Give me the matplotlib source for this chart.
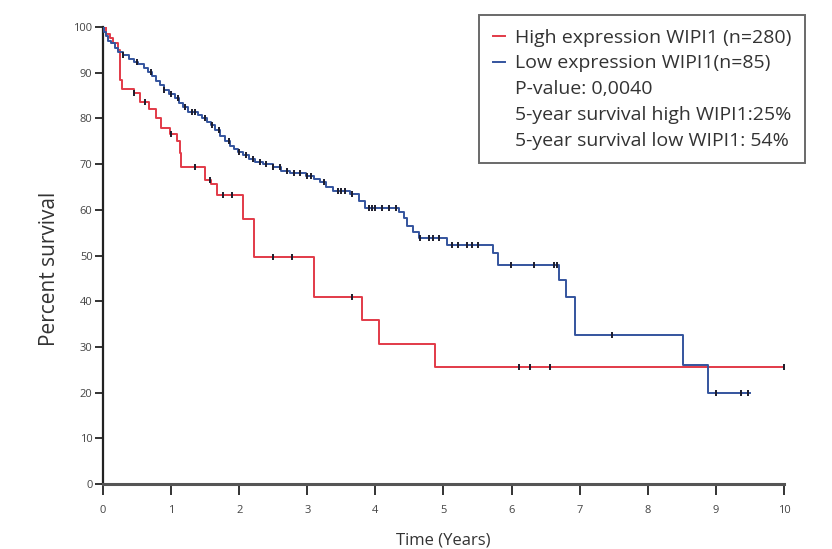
import numpy as np
import matplotlib
matplotlib.use("Agg")
import matplotlib.pyplot as plt
from matplotlib.lines import Line2D

plt.rcParams["font.family"] = ["Open Sans", "DejaVu Sans"]

# Kaplan-Meier step data (time in years, percent survival)
high_times = [0, 0.05, 0.10, 0.15, 0.22, 0.25, 0.28, 0.45, 0.55, 0.68, 0.78, 0.85, 0.98,
              1.08, 1.13, 1.15, 1.50, 1.58, 1.67, 2.05, 2.22, 3.10, 3.80, 4.05, 4.88]
high_surv = [100, 98.5, 97.5, 96.5, 95, 88.5, 86.5, 85.5, 83.5, 82, 80, 78, 76.5,
             75, 72.5, 69.3, 66.5, 65.6, 63.3, 58, 49.6, 40.9, 35.8, 30.7, 25.6]
high_end = 10.0
high_censor = [0.45, 0.62, 1.0, 1.35, 1.57, 1.76, 1.9, 2.5, 2.77, 3.66, 6.11, 6.27, 6.56, 10.0]

low_times = [0, 0.02, 0.05, 0.08, 0.12, 0.17, 0.22, 0.30, 0.38, 0.45, 0.52, 0.60, 0.66, 0.72,
             0.78, 0.83, 0.90, 0.97, 1.05, 1.12, 1.18, 1.25, 1.40, 1.45, 1.52, 1.59, 1.65,
             1.72, 1.79, 1.86, 1.93, 1.98, 2.06, 2.15, 2.23, 2.35, 2.50, 2.62, 2.75, 2.98,
             3.10, 3.19, 3.28, 3.38, 3.62, 3.76, 3.84, 4.35, 4.42, 4.47, 4.55, 4.64, 5.05,
             5.73, 5.80, 6.70, 6.80, 6.93, 8.52, 8.89]
low_surv = [100, 99, 98, 97, 96.5, 95.5, 94.5, 93.8, 93, 92.3, 91.8, 91, 90.2, 89.2,
            88.2, 87.3, 86.3, 85.4, 84.4, 83.4, 82.4, 81.5, 80.8, 80, 79.3, 78.6, 77.5,
            76.2, 75, 74, 73.2, 72.7, 72, 71.2, 70.5, 70, 69.3, 68.6, 68, 67.4,
            66.7, 66, 65, 64.2, 63.4, 62, 60.4, 59.6, 58.2, 56.5, 55.2, 53.8, 52.3,
            50.5, 47.9, 44.6, 41, 32.6, 26, 20]
low_end = 9.5
low_censor = [0.3, 0.5, 0.7, 0.9, 1.0, 1.1, 1.2, 1.3, 1.35, 1.5, 1.6, 1.7, 1.85, 2.0, 2.1,
              2.2, 2.3, 2.4, 2.5, 2.6, 2.7, 2.8, 2.9, 3.0, 3.05, 3.25, 3.45, 3.5, 3.55,
              3.65, 3.9, 3.95, 4.0, 4.1, 4.2, 4.3, 4.66, 4.78, 4.85, 4.93, 5.13, 5.22,
              5.34, 5.42, 5.51, 5.99, 6.33, 6.62, 6.66, 7.47, 9.0, 9.37, 9.47]

high_label = "High expression WIPI1 (n=280)"
low_label = "Low expression WIPI1(n=85)"
extra_lines = ["P-value: 0,0040",
               "5-year survival high WIPI1:25%",
               "5-year survival low WIPI1: 54%"]

RED = "#e23a48"
BLUE = "#34549e"


def surv_at(times, surv, t):
    idx = np.searchsorted(times, t, side="right") - 1
    return np.asarray(surv)[idx]


def draw_curve(ax, times, surv, end, censor, color):
    t = np.append(times, end)
    s = np.append(surv, surv[-1])
    ax.step(t, s, where="post", color=color, lw=1.4, zorder=3)
    cy = surv_at(np.asarray(times), surv, np.asarray(censor))
    ax.plot(censor, cy, ls="none", marker="|", ms=5, mew=1.4, color="#1c1c2c", zorder=4)


fig = plt.figure(figsize=(8.32, 5.49), dpi=100)
ax = fig.add_axes([0.1238, 0.1184, 0.8185, 0.8324])

draw_curve(ax, high_times, high_surv, high_end, high_censor, RED)
draw_curve(ax, low_times, low_surv, low_end, low_censor, BLUE)

ax.set_xlim(0, 10)
ax.set_ylim(0, 100)
ax.set_xticks(range(0, 11))
ax.set_yticks(range(0, 101, 10))
for side in ("top", "right"):
    ax.spines[side].set_visible(False)
ax.spines["left"].set_linewidth(1.6)
ax.spines["left"].set_color("#222222")
ax.spines["bottom"].set_linewidth(2.2)
ax.spines["bottom"].set_color("#555555")
ax.tick_params(axis="y", length=6, width=1.4, color="#333333", labelsize=8,
               labelcolor="#444444", pad=1.5)
ax.tick_params(axis="x", length=8, width=1.4, color="#333333", labelsize=8,
               labelcolor="#444444", pad=7)
ax.set_xlabel("Time (Years)", fontsize=12, color="#333333", labelpad=12)
ax.set_ylabel("Percent survival", fontsize=15, color="#333333")
ax.yaxis.set_label_coords(-0.063, 0.47)

handles = [Line2D([], [], color=RED, lw=1.4), Line2D([], [], color=BLUE, lw=1.4)]
handles += [Line2D([], [], color="none") for _ in extra_lines]
leg = fig.legend(handles, [high_label, low_label] + extra_lines,
                 loc="upper right", bbox_to_anchor=(0.9675, 0.9727),
                 frameon=True, fancybox=False, fontsize=14, handlelength=0.65,
                 handletextpad=0.5, labelspacing=0.4, borderpad=0.7,
                 borderaxespad=0)
leg.get_frame().set_edgecolor("#444444")
leg.get_frame().set_linewidth(1.4)
for txt in leg.get_texts():
    txt.set_color("#333333")

fig.savefig("out.png", dpi=100)
